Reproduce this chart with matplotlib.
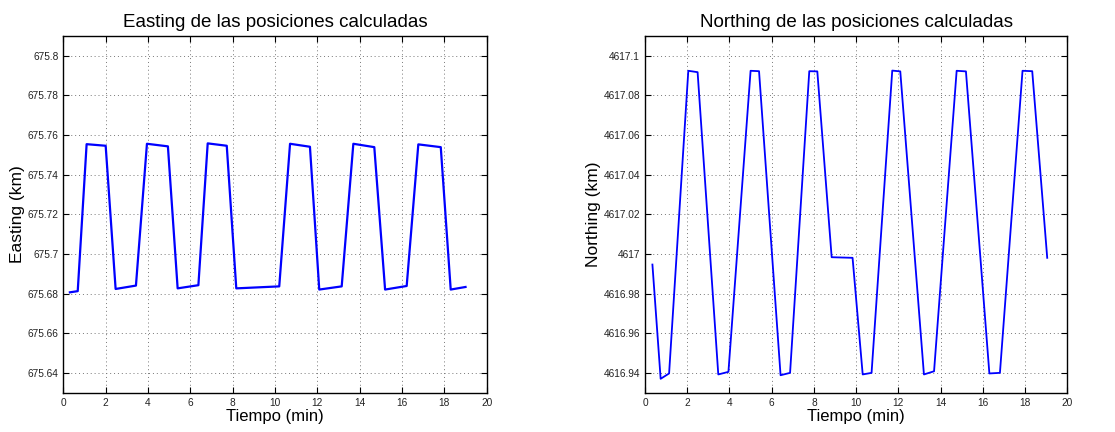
import matplotlib
matplotlib.use('Agg')
import matplotlib.pyplot as plt
from matplotlib.ticker import FuncFormatter, MultipleLocator

plt.rcParams['font.family'] = ['Liberation Sans', 'DejaVu Sans']

# Easting vs time (breakpoints)
t_east = [0.31, 0.68, 1.10, 2.00, 2.47, 3.43, 3.95, 4.94, 5.40, 6.38, 6.82, 7.72,
          8.17, 10.20, 10.71, 11.65, 12.09, 13.15, 13.70, 14.69, 15.20, 16.22,
          16.77, 17.83, 18.30, 19.00]
easting = [675.6806, 675.6812, 675.7553, 675.7545, 675.6823, 675.6840, 675.7555,
           675.7542, 675.6826, 675.6842, 675.7557, 675.7545, 675.6826, 675.6836,
           675.7555, 675.7540, 675.6820, 675.6836, 675.7555, 675.7538, 675.6820,
           675.6838, 675.7552, 675.7538, 675.6820, 675.6833]

# Northing vs time
t_north = [0.35, 0.74, 1.14, 2.05, 2.49, 3.47, 3.95, 5.00, 5.40, 6.42, 6.87, 7.78,
           8.16, 8.84, 9.83, 10.31, 10.73, 11.71, 12.09, 13.21, 13.69, 14.76,
           15.20, 16.31, 16.81, 17.88, 18.34, 19.05]
northing = [4616.9946, 4616.9370, 4616.9397, 4617.0923, 4617.0916, 4616.9392,
            4616.9405, 4617.0923, 4617.0921, 4616.9388, 4616.9400, 4617.0921,
            4617.0920, 4616.9983, 4616.9980, 4616.9392, 4616.9400, 4617.0924,
            4617.0920, 4616.9392, 4616.9408, 4617.0923, 4617.0920, 4616.9397,
            4616.9400, 4617.0923, 4617.0921, 4616.9980]

fig = plt.figure(figsize=(11.15, 4.32), dpi=100)
ax1 = fig.add_axes([0.0568, 0.091, 0.3797, 0.8264])
ax2 = fig.add_axes([0.5785, 0.091, 0.3787, 0.8264])

fmt = FuncFormatter(lambda v, p: '%g' % round(v, 6))

def style(ax, ylim, title, ylabel):
    ax.set_xlim(0, 20)
    ax.set_ylim(*ylim)
    ax.xaxis.set_major_locator(MultipleLocator(2))
    ax.yaxis.set_major_locator(MultipleLocator(0.02))
    ax.yaxis.set_major_formatter(fmt)
    ax.tick_params(direction='in', top=True, right=True, labelsize=7.3,
                   labelcolor='#222222', length=4, width=0.8)
    ax.grid(True, linestyle=(0, (1, 3)), color='#777777', linewidth=0.7)
    for s in ax.spines.values():
        s.set_linewidth(1.0)
    ax.set_title(title, fontsize=13.5, pad=6)
    ax.set_xlabel('Tiempo (min)', fontsize=12, labelpad=1)
    ax.set_ylabel(ylabel, fontsize=12.5, labelpad=2)

ax1.plot(t_east, easting, color='#0000ff', linewidth=1.6)
style(ax1, (675.63, 675.81), 'Easting de las posiciones calculadas', 'Easting (km)')

ax2.plot(t_north, northing, color='#0000ff', linewidth=1.3)
style(ax2, (4616.93, 4617.11), 'Northing de las posiciones calculadas', 'Northing (km)')

fig.savefig('out.png', dpi=100)
